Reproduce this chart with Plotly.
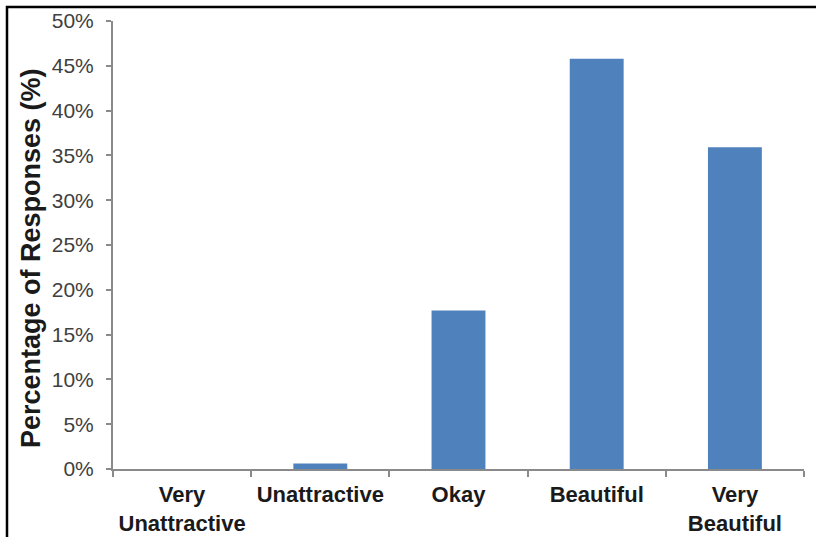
import plotly.graph_objects as go

categories = ["Very<br>Unattractive", "Unattractive", "Okay", "Beautiful", "Very<br>Beautiful"]
percentages = [0.0, 0.6, 17.7, 45.8, 35.9]
y_ticks = [0, 5, 10, 15, 20, 25, 30, 35, 40, 45, 50]
y_tick_labels = [f"{v}%" for v in y_ticks]
y_title = "Percentage of Responses (%)"

W, H = 816, 537
L, R, T, B = 113, 12, 21, 68
pw, ph = W - L - R, H - T - B

def px_x(p):
    return (p - L) / pw

def px_y(p):
    return (H - B - p) / ph

fig = go.Figure(
    go.Bar(
        x=categories,
        y=percentages,
        marker=dict(color="#4F81BD", line=dict(width=0)),
        width=0.39,
    )
)

axis_color = "#8a8a8a"
frame_path = (
    f"M {px_x(7):.5f},{px_y(H + 2):.5f} "
    f"L {px_x(7):.5f},{px_y(7):.5f} "
    f"L {px_x(W + 2):.5f},{px_y(7):.5f}"
)

fig.update_layout(
    width=W,
    height=H,
    margin=dict(l=L, r=R, t=T, b=B, autoexpand=False),
    paper_bgcolor="white",
    plot_bgcolor="white",
    showlegend=False,
    font=dict(family="Liberation Sans, Arial, sans-serif"),
    xaxis=dict(
        type="category",
        range=[-0.5, 4.5],
        automargin=False,
        showline=True,
        linecolor=axis_color,
        linewidth=2,
        ticks="outside",
        tickson="boundaries",
        ticklen=6,
        tickcolor=axis_color,
        tickwidth=2,
        showgrid=False,
        ticklabelstandoff=5,
        tickfont=dict(size=22, color="#1a1a1a", family="Liberation Sans, Arial, sans-serif", weight="bold"),
        fixedrange=True,
    ),
    yaxis=dict(
        range=[0, 50],
        automargin=False,
        tickvals=y_ticks,
        ticktext=y_tick_labels,
        showline=True,
        linecolor=axis_color,
        linewidth=2,
        ticks="outside",
        ticklen=5,
        tickcolor=axis_color,
        tickwidth=2,
        showgrid=False,
        zeroline=False,
        ticklabelstandoff=8,
        tickfont=dict(size=21, color="#404040"),
        fixedrange=True,
    ),
    annotations=[
        dict(
            text=y_title,
            xref="paper",
            yref="paper",
            x=px_x(31),
            y=px_y(258),
            xanchor="center",
            yanchor="middle",
            textangle=-90,
            showarrow=False,
            font=dict(size=27, color="#1a1a1a", family="Liberation Sans, Arial, sans-serif", weight="bold"),
        )
    ],
    shapes=[
        dict(type="path", xref="paper", yref="paper", path=frame_path,
             line=dict(color="black", width=2.5)),
    ],
)

fig.write_html("out.html", config={"displayModeBar": False})
